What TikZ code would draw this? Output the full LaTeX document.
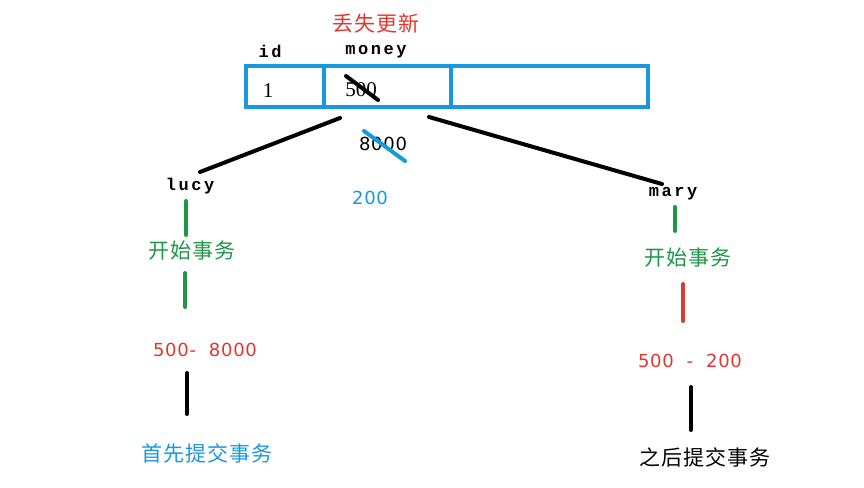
\documentclass[tikz,border=0pt]{standalone}
\usepackage{fontspec}
\setmainfont{Noto Sans CJK SC}
\newfontfamily\monof[LetterSpace=15]{Liberation Mono}
\newfontfamily\serf{Liberation Serif}
\newfontfamily\cjkf[LetterSpace=5]{Noto Sans CJK SC}
\newfontfamily\numf[LetterSpace=4]{DejaVu Sans}
\definecolor{boxblue}{RGB}{24,152,222}
\definecolor{myred}{RGB}{222,56,48}
\definecolor{mygreen}{RGB}{30,150,70}
\tikzset{
  mono/.style={font=\monof\fontsize{17}{17}\selectfont\bfseries, inner sep=0pt},
  cjk/.style={font=\cjkf\fontsize{21}{21}\selectfont, inner sep=0pt},
  num/.style={font=\numf\fontsize{18}{18}\selectfont, inner sep=0pt},
  stroke/.style={line width=4pt, line cap=round},
}
\begin{document}
\begin{tikzpicture}[x=1pt,y=-1pt]
\useasboundingbox (0,0) rectangle (864,487);
% table
\draw[boxblue, line width=4pt] (246,66) rectangle (648,107);
\draw[boxblue, line width=4pt] (324,66) -- (324,107);
\draw[boxblue, line width=4pt] (451,66) -- (451,107);
\node[cjk, myred] (title) at (376,23) {丢失更新};
\node[mono] (id) at (270,51) {id};
\node[mono] (money) at (376,52) {money};
\node[font=\serf\fontsize{21}{21}\selectfont, inner sep=0pt] (one) at (268,91) {1};
\node[font=\serf\fontsize{21}{21}\selectfont, inner sep=0pt] (v500) at (361,90) {500};
\draw[stroke, black] (346,76) -- (378,100);
\node[num] (v8000) at (383,144) {8000};
\draw[stroke, boxblue] (364,131) -- (405,161);
\node[num, boxblue] (v200) at (370,198) {200};
% users
\node[mono] (lucy) at (190,186) {lucy};
\node[mono] (mary) at (673,194) {mary};
\coordinate (tl) at (340,118);
\coordinate (tr) at (429,117);
\draw[stroke, black] (tl) -- (200,172);
\draw[stroke, black] (tr) -- (662,184);
% lucy column
\node[cjk, mygreen] (lstart) at (192,251) {开始事务};
\node[num, myred] (lcalc) at (205,350) {500-\ \ 8000};
\node[cjk, boxblue] (lcommit) at (207,453) {首先提交事务};
\draw[stroke, mygreen] (186,201) -- (186,235);
\draw[stroke, mygreen] (185,273) -- (185,307);
\draw[stroke, black] (187,373) -- (187,414);
% mary column
\node[cjk, mygreen] (mstart) at (688,258) {开始事务};
\node[num, myred] (mcalc) at (690,361) {500\ \ -\ \ 200};
\node[cjk, black] (mcommit) at (705,457) {之后提交事务};
\draw[stroke, mygreen] (675,207) -- (675,231);
\draw[stroke, myred] (683,284) -- (683,321);
\draw[stroke, black] (691,387) -- (691,430);
\end{tikzpicture}
\end{document}
